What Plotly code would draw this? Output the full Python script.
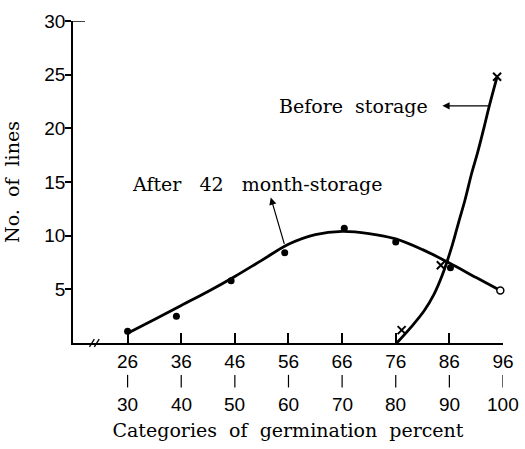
import plotly.graph_objects as go

# ---- data ----
cat_low = [26, 36, 46, 56, 66, 76, 86, 96]          # lower bound of category (tick label top row)
cat_high = [30, 40, 50, 60, 70, 80, 90, 100]        # upper bound (tick label bottom row)

# After 42 month-storage: observed points
after_x = [26, 35.1, 45.3, 55.3, 66.4, 76.0, 86.2, 95.5]
after_y = [1.1, 2.5, 5.8, 8.4, 10.7, 9.4, 7.0, 4.9]
# smooth curve drawn through them
after_fit_x = [26, 31, 36, 41, 46, 51, 56, 61, 66, 71, 76, 81, 86, 91, 95.5]
after_fit_y = [0.9, 2.2, 3.5, 4.8, 6.2, 7.7, 9.2, 10.1, 10.4, 10.2, 9.7, 8.7, 7.45, 6.1, 4.9]

# Before storage: observed points
before_x = [77.1, 84.4, 94.9]
before_y = [1.2, 7.25, 24.8]
# smooth curve
before_fit_x = [76.2, 78.9, 81.3, 83.1, 84.7, 86.5, 87.7, 88.9, 90.1, 91.3, 92.4, 93.45, 94.9]
before_fit_y = [0.0, 1.5, 3.0, 4.5, 6.35, 9.05, 11.2, 13.3, 15.7, 17.8, 19.95, 22.1, 24.8]

y_ticks = [5, 10, 15, 20, 25, 30]

SERIF = "DejaVu Serif"
SANS = "Liberation Sans, Arial, sans-serif"

fig = go.Figure()

fig.add_trace(go.Scatter(x=after_fit_x, y=after_fit_y, mode="lines",
                         line=dict(color="black", width=2.8, shape="spline", smoothing=1.0),
                         hoverinfo="skip", showlegend=False, cliponaxis=False))
fig.add_trace(go.Scatter(x=before_fit_x, y=before_fit_y, mode="lines",
                         line=dict(color="black", width=2.8, shape="spline", smoothing=1.0),
                         hoverinfo="skip", showlegend=False, cliponaxis=False))

fig.add_trace(go.Scatter(x=after_x[:-1], y=after_y[:-1], mode="markers",
                         marker=dict(color="black", size=7, symbol="circle"),
                         showlegend=False, cliponaxis=False, name="After 42 month-storage"))
fig.add_trace(go.Scatter(x=after_x[-1:], y=after_y[-1:], mode="markers",
                         marker=dict(color="white", size=7, symbol="circle",
                                     line=dict(color="black", width=1.5)),
                         showlegend=False, cliponaxis=False, name="After 42 month-storage"))
fig.add_trace(go.Scatter(x=before_x, y=before_y, mode="markers",
                         marker=dict(color="black", size=8, symbol="x-thin",
                                     line=dict(color="black", width=2)),
                         showlegend=False, cliponaxis=False, name="Before storage"))

annotations = []
shapes = []
# lower rows of x tick labels: a short bar and the upper bound
for lo, hi in zip(cat_low, cat_high):
    shapes.append(dict(type="line", xref="x", yref="paper", x0=lo, x1=lo,
                       y0=-0.099, y1=-0.138, line=dict(color="black", width=1.2)))
    annotations.append(dict(x=lo, y=0, xref="x", yref="paper", text=str(hi), showarrow=False,
                            yanchor="middle", yshift=-61,
                            font=dict(family=SANS, size=19, color="black")))

# series labels with arrows
annotations.append(dict(x=82.4, y=22.1, xref="x", yref="y", text="Before\u00a0 storage",
                        showarrow=False, xanchor="right", yanchor="middle",
                        font=dict(family=SERIF, size=19, color="black")))
annotations.append(dict(x=84.7, y=22.1, ax=93.5, ay=22.1, xref="x", yref="y",
                        axref="x", ayref="y", text="", showarrow=True,
                        arrowhead=2, arrowsize=1.2, arrowwidth=1.2, arrowcolor="black"))
annotations.append(dict(x=26.5, y=14.8, xref="x", yref="y",
                        text="After\u00a0 \u00a042\u00a0 \u00a0month-storage",
                        showarrow=False, xanchor="left", yanchor="middle",
                        font=dict(family=SERIF, size=19, color="black")))
annotations.append(dict(x=52.7, y=13.55, ax=55.3, ay=9.1, xref="x", yref="y",
                        axref="x", ayref="y", text="", showarrow=True,
                        arrowhead=2, arrowsize=1.2, arrowwidth=1.2, arrowcolor="black"))

shapes += [
    # cap at top of y axis
    dict(type="line", xref="paper", yref="y", x0=0, x1=0.028, y0=30, y1=30,
         line=dict(color="black", width=1.5)),
    # axis break marks
    dict(type="line", xref="x", yref="paper", x0=18.9, x1=19.8, y0=-0.012, y1=0.012,
         line=dict(color="black", width=1.3)),
    dict(type="line", xref="x", yref="paper", x0=19.8, x1=20.7, y0=-0.012, y1=0.012,
         line=dict(color="black", width=1.3)),
]

fig.update_layout(
    width=525, height=449,
    margin=dict(l=73, r=11, t=15, b=102),
    paper_bgcolor="white", plot_bgcolor="white",
    showlegend=False,
    annotations=annotations,
    shapes=shapes,
    xaxis=dict(range=[15.82, 96], tickvals=cat_low, ticktext=[str(v) for v in cat_low],
               ticks="inside", ticklen=10, tickwidth=1.5, tickcolor="black",
               showline=True, linecolor="black", linewidth=1.8, showgrid=False, zeroline=False,
               tickfont=dict(family=SANS, size=19, color="black"),
               title=dict(text="Categories\u00a0 of\u00a0 germination\u00a0 percent",
                          font=dict(family=SERIF, size=19, color="black"), standoff=53)),
    yaxis=dict(range=[0, 30], tickvals=y_ticks, ticktext=[str(v) for v in y_ticks],
               ticks="outside", ticklen=6, tickwidth=1.5, tickcolor="black",
               showline=True, linecolor="black", linewidth=1.8, showgrid=False, zeroline=False,
               ticklabelstandoff=-4,
               tickfont=dict(family=SANS, size=19, color="black"),
               title=dict(text="No.\u00a0 of\u00a0 lines",
                          font=dict(family=SERIF, size=19, color="black"), standoff=20)),
)

fig.write_html("out.html")
